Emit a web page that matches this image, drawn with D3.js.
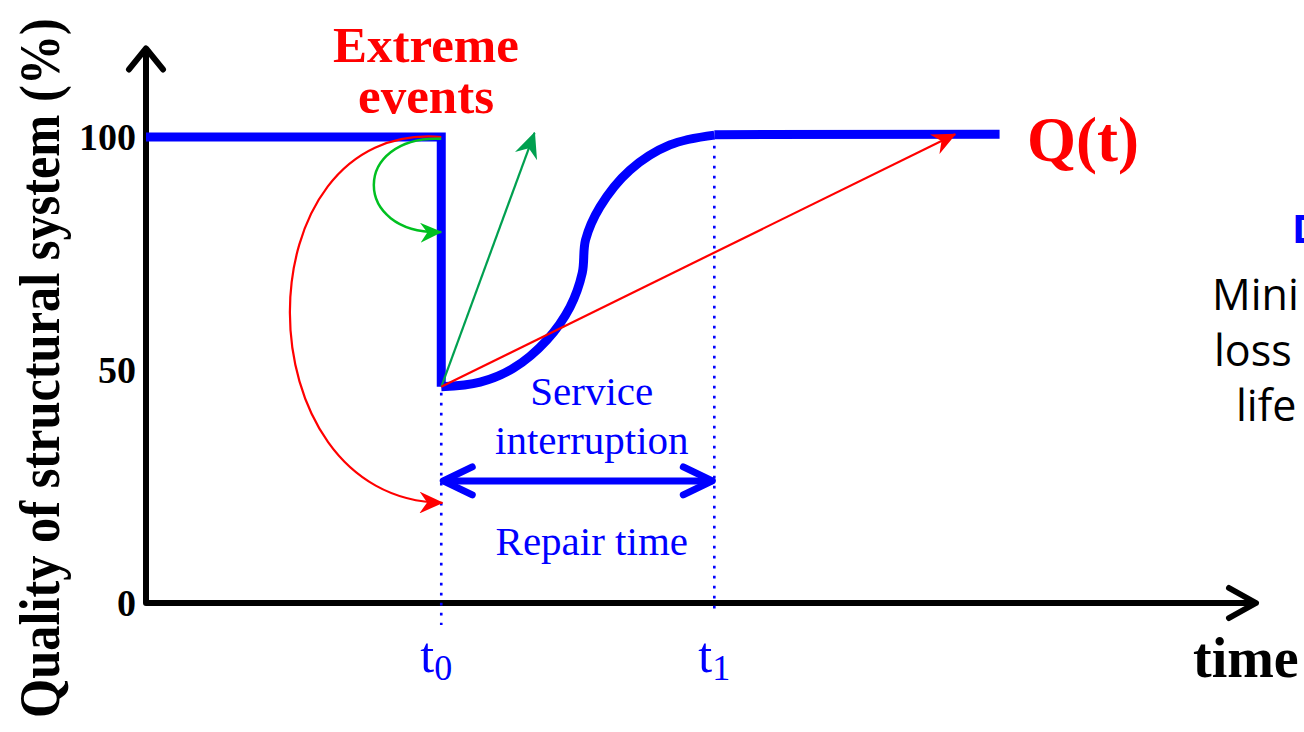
<!DOCTYPE html>
<html>
<head>
<meta charset="utf-8">
<script src="https://cdn.jsdelivr.net/npm/d3@7"></script>
<style>
  body { margin: 0; background: #fff; overflow: hidden; }
  svg { display: block; }
</style>
</head>
<body>
<div id="chart"></div>
<script>
var w = 1304;
var h = 732;

// quality of the structural system (%) against time
var yTicks = [0, 50, 100];
var preTime = [0, 26.6, 26.6];
var preQuality = [100, 100, 46.4];
var recoveryTime = [26.6, 30.1, 33.1, 36.1, 38.2, 39.3, 39.6, 40.9, 43.6, 47.2, 51.2];
var recoveryQuality = [46.4, 47.4, 50.4, 56.4, 63.5, 70.8, 77.9, 85.0, 92.9, 98.3, 100.4];
var postTime = [51.2, 76.9];
var postQuality = [100.5, 100.6];
var t0 = 26.6, t1 = 51.2;
var repairLevel = 26.2;

// annotation arrows, in data units [time, quality]
var greenCurve = [[26.6, 99.6], [18.5, 100.4], [18.5, 79.0], [26.6, 79.6]];
var redCurve = [[26.6, 100], [8.4, 103.6], [8.4, 22.1], [26.7, 21.5]];
var greenArrow = [[26.6, 46.4], [35.0, 100.9]];
var redArrow = [[26.6, 46.4], [72.9, 100.6]];

var blue = "#0000ff", red = "#ff0000";
var serif = "'Liberation Serif', 'DejaVu Serif', serif";

var x = d3.scaleLinear().domain([0, 100]).range([146, 1256]);
var y = d3.scaleLinear().domain([0, 100]).range([603, 137]);

var svg = d3.select("#chart")
            .append("svg")
            .attr("width", w)
            .attr("height", h);

var defs = svg.append("defs");
function head(id, color, size) {
    defs.append("marker")
        .attr("id", id)
        .attr("viewBox", "0 0 22 20")
        .attr("markerUnits", "userSpaceOnUse")
        .attr("markerWidth", size)
        .attr("markerHeight", size * 20 / 22)
        .attr("refX", 21)
        .attr("refY", 10)
        .attr("orient", "auto")
        .append("path")
        .attr("d", "M0,0 L22,10 L0,20 L7,10 Z")
        .attr("fill", color);
}
head("redHead", red, 24);
head("greenHead", "#00c020", 22);
head("darkGreenHead", "#00a050", 26);

// axes
var axisG = svg.append("g")
    .attr("transform", "translate(" + x(0) + ",0)")
    .call(d3.axisLeft(y).tickValues(yTicks).tickSize(0).tickPadding(10));
axisG.select(".domain").remove();
axisG.selectAll("text")
    .attr("font-family", serif)
    .attr("font-weight", "bold")
    .attr("font-size", "38px")
    .attr("fill", "#000")
    .attr("dy", "0.34em");

var axisLine = svg.append("g")
    .attr("fill", "none")
    .attr("stroke", "#000")
    .attr("stroke-width", 6)
    .attr("stroke-linecap", "round")
    .attr("stroke-linejoin", "round");
var ox = x(0), oy = y(0), yTop = y(119), xEnd = x(100);
axisLine.append("path")
    .attr("d", "M" + xEnd + "," + oy + " L" + ox + "," + oy + " L" + ox + "," + yTop)
    .attr("stroke-linecap", "butt");
axisLine.append("path")
    .attr("d", "M" + (ox - 17) + "," + (yTop + 21) + " L" + ox + "," + yTop + " L" + (ox + 17) + "," + (yTop + 21));
axisLine.append("path")
    .attr("d", "M" + (xEnd - 27) + "," + (oy - 15) + " L" + xEnd + "," + oy + " L" + (xEnd - 27) + "," + (oy + 15));

// dotted guides at t0 and t1
var dots = svg.append("g")
    .attr("stroke", blue)
    .attr("stroke-width", 2.6)
    .attr("stroke-dasharray", "2.6,7.4");
dots.append("line")
    .attr("x1", x(t0)).attr("x2", x(t0))
    .attr("y1", y(46.4) + 6).attr("y2", y(-4.7));
dots.append("line")
    .attr("x1", x(t1)).attr("x2", x(t1))
    .attr("y1", y(99.4) + 6).attr("y2", y(-1.9));

// Q(t)
var pre = d3.line()
    .x(function(d, i) { return x(preTime[i]); })
    .y(function(d, i) { return y(preQuality[i]); });
svg.append("path")
    .attr("d", pre(preTime))
    .attr("fill", "none")
    .attr("stroke", blue)
    .attr("stroke-width", 9);

var rec = d3.line()
    .x(function(d, i) { return x(recoveryTime[i]); })
    .y(function(d, i) { return y(recoveryQuality[i]); })
    .curve(d3.curveCatmullRom.alpha(0.5));
svg.append("path")
    .attr("d", rec(recoveryTime))
    .attr("fill", "none")
    .attr("stroke", blue)
    .attr("stroke-width", 9);

var post = d3.line()
    .x(function(d, i) { return x(postTime[i]); })
    .y(function(d, i) { return y(postQuality[i]); });
svg.append("path")
    .attr("d", post(postTime))
    .attr("fill", "none")
    .attr("stroke", blue)
    .attr("stroke-width", 9);

// curved arrows
function bez(p) {
    return "M" + x(p[0][0]) + "," + y(p[0][1]) +
        " C" + x(p[1][0]) + "," + y(p[1][1]) + " " +
        x(p[2][0]) + "," + y(p[2][1]) + " " +
        x(p[3][0]) + "," + y(p[3][1]);
}
svg.append("path")
    .attr("d", bez(redCurve))
    .attr("fill", "none")
    .attr("stroke", red)
    .attr("stroke-width", 2.2)
    .attr("marker-end", "url(#redHead)");
svg.append("path")
    .attr("d", bez(greenCurve))
    .attr("fill", "none")
    .attr("stroke", "#00c020")
    .attr("stroke-width", 2.5)
    .attr("marker-end", "url(#greenHead)");

// straight arrows
var straight = d3.line()
    .x(function(d) { return x(d[0]); })
    .y(function(d) { return y(d[1]); });
svg.append("path")
    .attr("d", straight(greenArrow))
    .attr("stroke", "#00a050")
    .attr("stroke-width", 2.2)
    .attr("marker-end", "url(#darkGreenHead)");
svg.append("path")
    .attr("d", straight(redArrow))
    .attr("stroke", red)
    .attr("stroke-width", 2.2)
    .attr("marker-end", "url(#redHead)");

// repair time double arrow
var ra = x(t0) + 2, rb = x(t1) - 2, ry = y(repairLevel);
var dbl = svg.append("g")
    .attr("fill", "none")
    .attr("stroke", blue)
    .attr("stroke-width", 7)
    .attr("stroke-linecap", "round")
    .attr("stroke-linejoin", "round");
dbl.append("path").attr("d", "M" + ra + "," + ry + " L" + rb + "," + ry).attr("stroke-linecap", "butt");
dbl.append("path").attr("d", "M" + (ra + 29) + "," + (ry - 14) + " L" + ra + "," + ry + " L" + (ra + 29) + "," + (ry + 14));
dbl.append("path").attr("d", "M" + (rb - 29) + "," + (ry - 14) + " L" + rb + "," + ry + " L" + (rb - 29) + "," + (ry + 14));

// texts
function label(txt, px, py, opts) {
    var t = svg.append("text")
        .attr("x", px).attr("y", py)
        .attr("font-family", opts.family || serif)
        .attr("font-size", opts.size + "px")
        .attr("font-weight", opts.weight || "normal")
        .attr("fill", opts.color || "#000")
        .attr("text-anchor", opts.anchor || "middle")
        .text(txt);
    return t;
}
label("Extreme", 426, 62, {size: 51, weight: "bold", color: red});
label("events", 426, 113, {size: 51, weight: "bold", color: red});
label("Q(t)", 1027, 161, {size: 63, weight: "bold", color: red, anchor: "start"});

var mid = (x(t0) + x(t1)) / 2 + 14;
label("Service", mid, 405, {size: 41, color: blue});
label("interruption", mid, 454, {size: 41, color: blue});
label("Repair time", mid, 555, {size: 41, color: blue});

var tl = label("t", x(t0) - 21, 672, {size: 50, color: blue, anchor: "start"});
tl.append("tspan").attr("font-size", "36px").attr("dy", "8").text("0");
var tr = label("t", x(t1) - 16, 672, {size: 50, color: blue, anchor: "start"});
tr.append("tspan").attr("font-size", "36px").attr("dy", "8").text("1");

label("time", 1193, 677, {size: 56, weight: "bold", anchor: "start"});

svg.append("text")
    .attr("transform", "translate(59,368) rotate(-90) scale(0.9,1)")
    .attr("text-anchor", "middle")
    .attr("font-family", serif)
    .attr("font-weight", "bold")
    .attr("font-size", "56px")
    .attr("fill", "#000")
    .text("Quality of structural system (%)");

// clipped side panel text
var sans = "'Open Sans', 'Noto Sans', sans-serif";
label("D", 1292, 243, {size: 40, weight: "bold", color: blue, family: sans, anchor: "start"});
label("Mini", 1212, 310, {size: 43, family: sans, anchor: "start"});
label("loss", 1214, 366, {size: 43, family: sans, anchor: "start"});
label("life", 1236, 421, {size: 43, family: sans, anchor: "start"});
</script>
</body>
</html>
